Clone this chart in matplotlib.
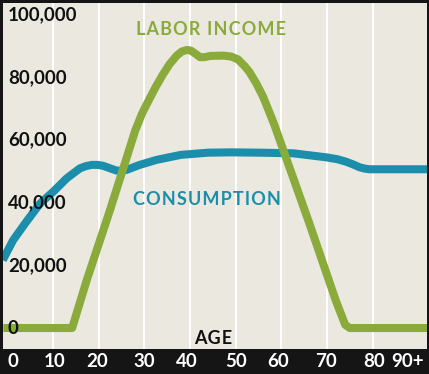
import matplotlib
matplotlib.use('Agg')
import matplotlib.pyplot as plt

# data (age in years, value in dollars)
labor_age = [0, 14.2, 17.4, 22.5, 28.0, 29.5, 31.0, 32.5, 34.0, 35.5, 37.1, 38.2, 39.3, 40.2,
             41.2, 42.2, 43.2, 44.5, 47.3, 49.0, 50.5, 52.0, 53.0, 54.5, 56.0, 57.2, 58.5,
             66, 72, 74, 75, 93]
labor_val = [0, 0, 15300, 37700, 63000, 68500, 72800, 77000, 80800, 84200, 87000, 88300, 88800,
             88600, 87600, 86500, 86500, 86900, 87000, 86700, 85800, 83600, 81800, 78200, 73900,
             69600, 64800, 34000, 8500, 1000, 0, 0]

cons_age = [-1.0, 1.3, 4.2, 7.2, 10.1, 13.0, 15.9, 17.2, 18.5, 19.8, 21.0, 22.5, 23.9, 25.0, 26.1,
            29.0, 32.7, 38, 44, 49, 55.3, 62.6, 69.9, 72.3, 74.2, 75.8, 77.2, 78.3, 79.3, 93]
cons_val = [21700, 28100, 34000, 39800, 43600, 47800, 51000, 51700, 52100, 52100, 51800, 51000,
            50300, 50200, 50500, 52100, 53700, 55300, 56000, 56100, 56000, 55800, 54500, 53900,
            53100, 52200, 51300, 50900, 50700, 50700]

grid_ages = [10, 20, 30, 40, 50, 60, 70, 80]
xtick_pos = [1.3, 10.4, 19.6, 30, 39.3, 50, 59.3, 69.8, 80.4, 87.6]
xtick_labels = ['0', '10', '20', '30', '40', '50', '60', '70', '80', '90+']
ytick_vals = [0, 20000, 40000, 60000, 80000, 100000]
ytick_labels = ['0', '20,000', '40,000', '60,000', '80,000', '100,000']

bg = '#ebe8e0'
green = '#8aab3b'
teal = '#1b8eab'
fam = ['Lato', 'DejaVu Sans']

W, H = 429, 374
fig = plt.figure(figsize=(W / 100, H / 100), dpi=100, facecolor='#151515')
ax = fig.add_axes([3 / W, 25 / H, (W - 3 - 2) / W, (H - 3 - 25) / H])
ax.set_facecolor(bg)
ax.set_xlim(-0.94, 91.9)
ax.set_ylim(-6700, 103800)

for a in grid_ages:
    ax.axvline(a, color='white', lw=1.4, zorder=1)

ax.plot(cons_age, cons_val, color=teal, lw=5.8, solid_capstyle='butt',
        solid_joinstyle='round', zorder=3)
ax.plot(labor_age, labor_val, color=green, lw=5.8, solid_capstyle='projecting',
        solid_joinstyle='round', zorder=4)


def spaced(s):
    return '\u200a'.join(s)


ax.text(44.6, 95200, spaced('LABOR INCOME'), color=green, fontsize=13, fontweight='bold',
        family=fam, ha='center', va='center', zorder=5)
ax.text(43.7, 40900, spaced('CONSUMPTION'), color=teal, fontsize=13, fontweight='bold',
        family=fam, ha='center', va='center', zorder=5)
ax.text(45, -3500, spaced('AGE'), color='#111111', fontsize=13, fontweight='bold',
        family=fam, ha='center', va='center', zorder=5)

for v, lab in zip(ytick_vals, ytick_labels):
    ax.text(0.15, v, lab, color='#111111', fontsize=13.5, fontweight='bold', family=fam,
            ha='left', va='center', zorder=6)

ax.set_yticks([])
ax.set_xticks(xtick_pos)
ax.set_xticklabels(xtick_labels, color='white', fontsize=13.5, fontweight='bold', family=fam)
ax.tick_params(axis='x', length=0, pad=3)
for s in ax.spines.values():
    s.set_visible(False)

fig.savefig('out.png', dpi=100, facecolor=fig.get_facecolor())
